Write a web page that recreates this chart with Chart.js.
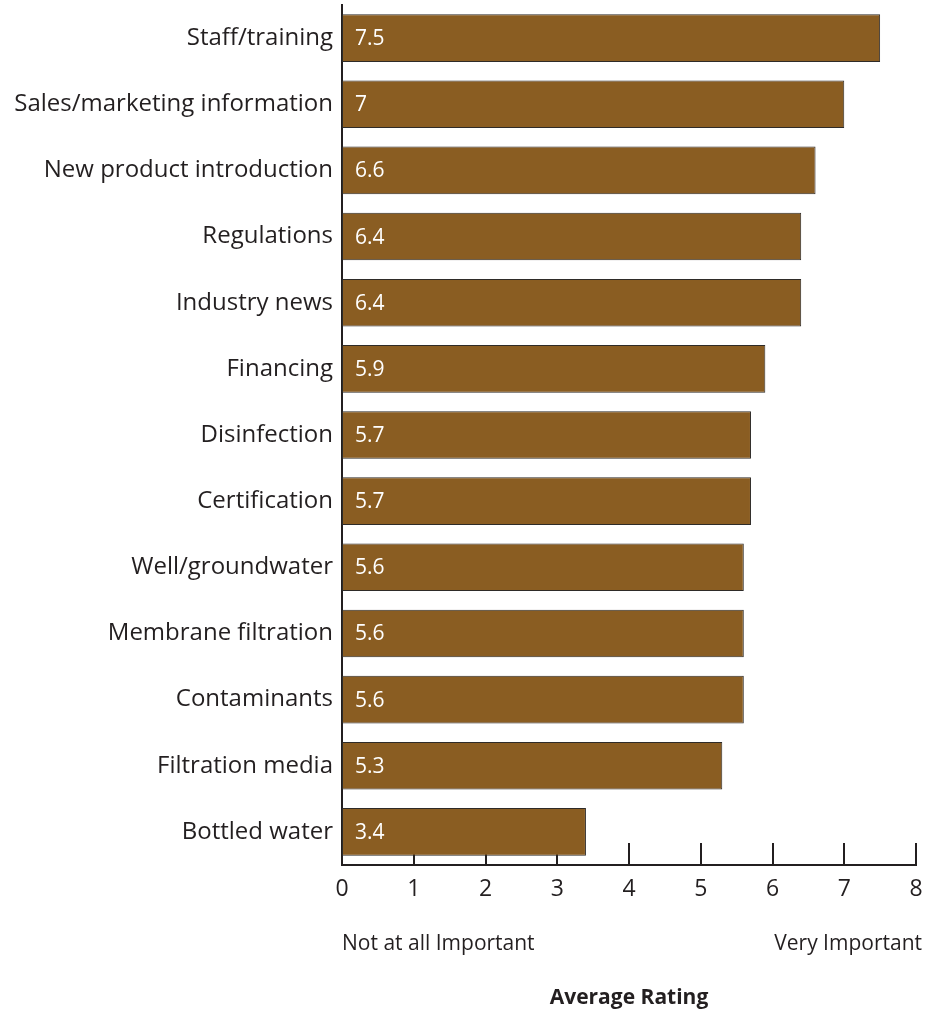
<!DOCTYPE html>
<html>
<head>
<meta charset="utf-8">
<script src="https://cdn.jsdelivr.net/npm/chart.js@4/dist/chart.umd.min.js"></script>
<style>
  html, body { margin: 0; padding: 0; background: #ffffff; }
  #wrap { width: 937px; height: 1011px; }
</style>
</head>
<body>
<div id="wrap"><canvas id="chart" width="937" height="1011"></canvas></div>
<script>
// Topics, ranked by average importance rating (0–8 scale)
const categories = [
  'Staff/training',
  'Sales/marketing information',
  'New product introduction',
  'Regulations',
  'Industry news',
  'Financing',
  'Disinfection',
  'Certification',
  'Well/groundwater',
  'Membrane filtration',
  'Contaminants',
  'Filtration media',
  'Bottled water'
];
const ratings = [7.5, 7, 6.6, 6.4, 6.4, 5.9, 5.7, 5.7, 5.6, 5.6, 5.6, 5.3, 3.4];
const xTicks = [0, 1, 2, 3, 4, 5, 6, 7, 8];
const scaleEnds = ['Not at all Important', 'Very Important'];
const axisTitle = 'Average Rating';

const INK = '#231f20';
const FONT = '"Open Sans", "Noto Sans", sans-serif';

// Short upward tick marks sitting on the x axis, drawn beneath the bars
const innerTicks = {
  id: 'innerTicks',
  beforeDatasetsDraw(chart) {
    const { ctx, scales: { x } } = chart;
    const base = chart.chartArea.bottom;
    ctx.save();
    ctx.strokeStyle = INK;
    ctx.lineWidth = 2;
    xTicks.forEach(v => {
      const px = Math.round(x.getPixelForValue(v));
      ctx.beginPath();
      ctx.moveTo(px, base);
      ctx.lineTo(px, base - 22);
      ctx.stroke();
    });
    ctx.restore();
  }
};

// Rating printed inside each bar, near its base
const barValues = {
  id: 'barValues',
  afterDatasetsDraw(chart) {
    const { ctx, scales: { x } } = chart;
    const meta = chart.getDatasetMeta(0);
    const x0 = x.getPixelForValue(0);
    ctx.save();
    ctx.fillStyle = '#ffffff';
    ctx.font = '21px ' + FONT;
    ctx.textAlign = 'left';
    ctx.textBaseline = 'middle';
    meta.data.forEach((bar, i) => {
      ctx.fillText(String(ratings[i]), x0 + 13, bar.y + 1);
    });
    ctx.restore();
  }
};

// End-of-scale captions under the tick labels
const scaleCaptions = {
  id: 'scaleCaptions',
  afterDraw(chart) {
    const { ctx, scales: { x } } = chart;
    ctx.save();
    ctx.fillStyle = INK;
    ctx.font = '21px ' + FONT;
    ctx.textBaseline = 'middle';
    ctx.textAlign = 'left';
    ctx.fillText(scaleEnds[0], x.getPixelForValue(xTicks[0]), 944);
    ctx.textAlign = 'right';
    ctx.fillText(scaleEnds[1], x.getPixelForValue(xTicks[xTicks.length - 1]) + 6, 944);
    ctx.restore();
  }
};

new Chart(document.getElementById('chart'), {
  type: 'bar',
  data: {
    labels: categories,
    datasets: [{
      data: ratings,
      backgroundColor: '#8a5d22',
      borderColor: '#2e2b28',
      borderWidth: 1,
      borderSkipped: false,
      barPercentage: 0.72,
      categoryPercentage: 1
    }]
  },
  options: {
    indexAxis: 'y',
    responsive: false,
    maintainAspectRatio: false,
    devicePixelRatio: 1,
    animation: false,
    layout: { padding: { top: 5, right: 21, left: 0, bottom: 0 } },
    plugins: {
      legend: { display: false },
      tooltip: { enabled: false }
    },
    scales: {
      x: {
        type: 'linear',
        min: 0,
        max: 8,
        afterBuildTicks(scale) {
          scale.ticks = xTicks.map(v => ({ value: v }));
        },
        afterFit(scale) { scale.height = 146; },
        grid: { display: false, drawTicks: false },
        border: { display: true, color: INK, width: 2 },
        ticks: {
          color: INK,
          padding: 11,
          font: { family: FONT, size: 23 }
        },
        title: {
          display: true,
          text: axisTitle,
          color: INK,
          font: { family: FONT, size: 21, weight: 'bold' },
          padding: { top: 0, bottom: 0 }
        }
      },
      y: {
        afterFit(scale) {
          scale.width = 342;
          scale.paddingTop = 0;
          scale.paddingBottom = 0;
        },
        grid: { display: false, drawTicks: false },
        border: { display: true, color: INK, width: 2 },
        ticks: {
          color: INK,
          padding: 9,
          font: { family: FONT, size: 24 }
        }
      }
    }
  },
  plugins: [innerTicks, barValues, scaleCaptions]
});
</script>
</body>
</html>
